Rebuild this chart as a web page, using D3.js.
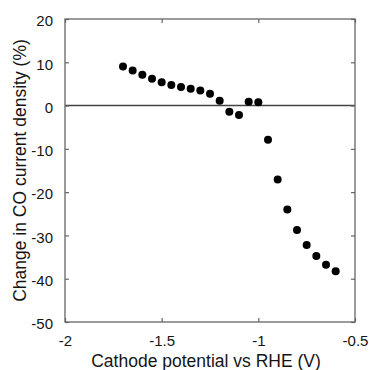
<!DOCTYPE html>
<html><head><meta charset="utf-8">
<script src="https://cdn.jsdelivr.net/npm/d3@7"></script>
<style>
html,body{margin:0;padding:0;background:#fff;}
svg{display:block;font-family:"Liberation Sans",Arial,sans-serif;}
</style></head>
<body>
<svg id="chart" width="369" height="370"></svg>
<script>
const potential = [-1.70,-1.65,-1.60,-1.55,-1.50,-1.45,-1.40,-1.35,-1.30,-1.25,-1.20,-1.15,-1.10,-1.05,-1.00,-0.95,-0.90,-0.85,-0.80,-0.75,-0.70,-0.65,-0.60];
const change = [9.0,8.1,7.1,6.2,5.4,4.75,4.3,3.9,3.5,2.75,1.1,-1.4,-2.2,0.9,0.75,-7.9,-17.1,-24.0,-28.75,-32.2,-34.75,-36.75,-38.3];
const xTicks = [-2,-1.5,-1,-0.5];
const yTicks = [20,10,0,-10,-20,-30,-40,-50];
const xLabel = "Cathode potential vs RHE (V)";
const yLabel = "Change in CO current density (%)";

const svg = d3.select("#chart");
const L=65, R=355, T=19, B=322;
const x = d3.scaleLinear().domain([-2,-0.5]).range([L,R]);
const y = d3.scaleLinear().domain([-50,20]).range([B,T]);
const axisColor="#666", textColor="#151515";
const fmt = d => String(d);

// zero line
svg.append("line").attr("x1",L).attr("x2",R).attr("y1",y(0)).attr("y2",y(0))
  .attr("stroke","#444").attr("stroke-width",1.6);

function styleAxis(g){
  g.select(".domain").remove();
  g.selectAll(".tick line").attr("stroke",axisColor).attr("stroke-width",1.2);
  g.selectAll(".tick text").attr("fill",textColor).attr("font-size",15);
}
// bottom
svg.append("g").attr("transform",`translate(0,${B})`)
  .call(d3.axisBottom(x).tickValues(xTicks).tickFormat(fmt).tickSizeInner(-4).tickSizeOuter(0).tickPadding(13))
  .call(styleAxis);
// top
svg.append("g").attr("transform",`translate(0,${T})`)
  .call(d3.axisTop(x).tickValues(xTicks).tickFormat("").tickSizeInner(-4).tickSizeOuter(0))
  .call(styleAxis);
// left
svg.append("g").attr("transform",`translate(${L},0)`)
  .call(d3.axisLeft(y).tickValues(yTicks).tickFormat(fmt).tickSizeInner(-4).tickSizeOuter(0).tickPadding(12))
  .call(styleAxis)
  .selectAll(".tick text").attr("dy","0.45em");
// right
svg.append("g").attr("transform",`translate(${R},0)`)
  .call(d3.axisRight(y).tickValues(yTicks).tickFormat("").tickSizeInner(-4).tickSizeOuter(0))
  .call(styleAxis);

// frame
svg.append("rect").attr("x",L).attr("y",T).attr("width",R-L).attr("height",B-T)
  .attr("fill","none").attr("stroke",axisColor).attr("stroke-width",1.3);

// points
svg.append("g").selectAll("circle").data(potential).join("circle")
  .attr("cx",(d)=>x(d)).attr("cy",(d,i)=>y(change[i])).attr("r",4).attr("fill","#000");

// labels
svg.append("text").attr("x",(L+R)/2 - 4).attr("y",367).attr("text-anchor","middle")
  .attr("font-size",17.5).attr("fill",textColor).text(xLabel);
svg.append("text").attr("transform",`translate(26,${(T+B)/2}) rotate(-90)`).attr("text-anchor","middle")
  .attr("font-size",17.5).attr("fill",textColor).text(yLabel);
</script>
</body></html>
